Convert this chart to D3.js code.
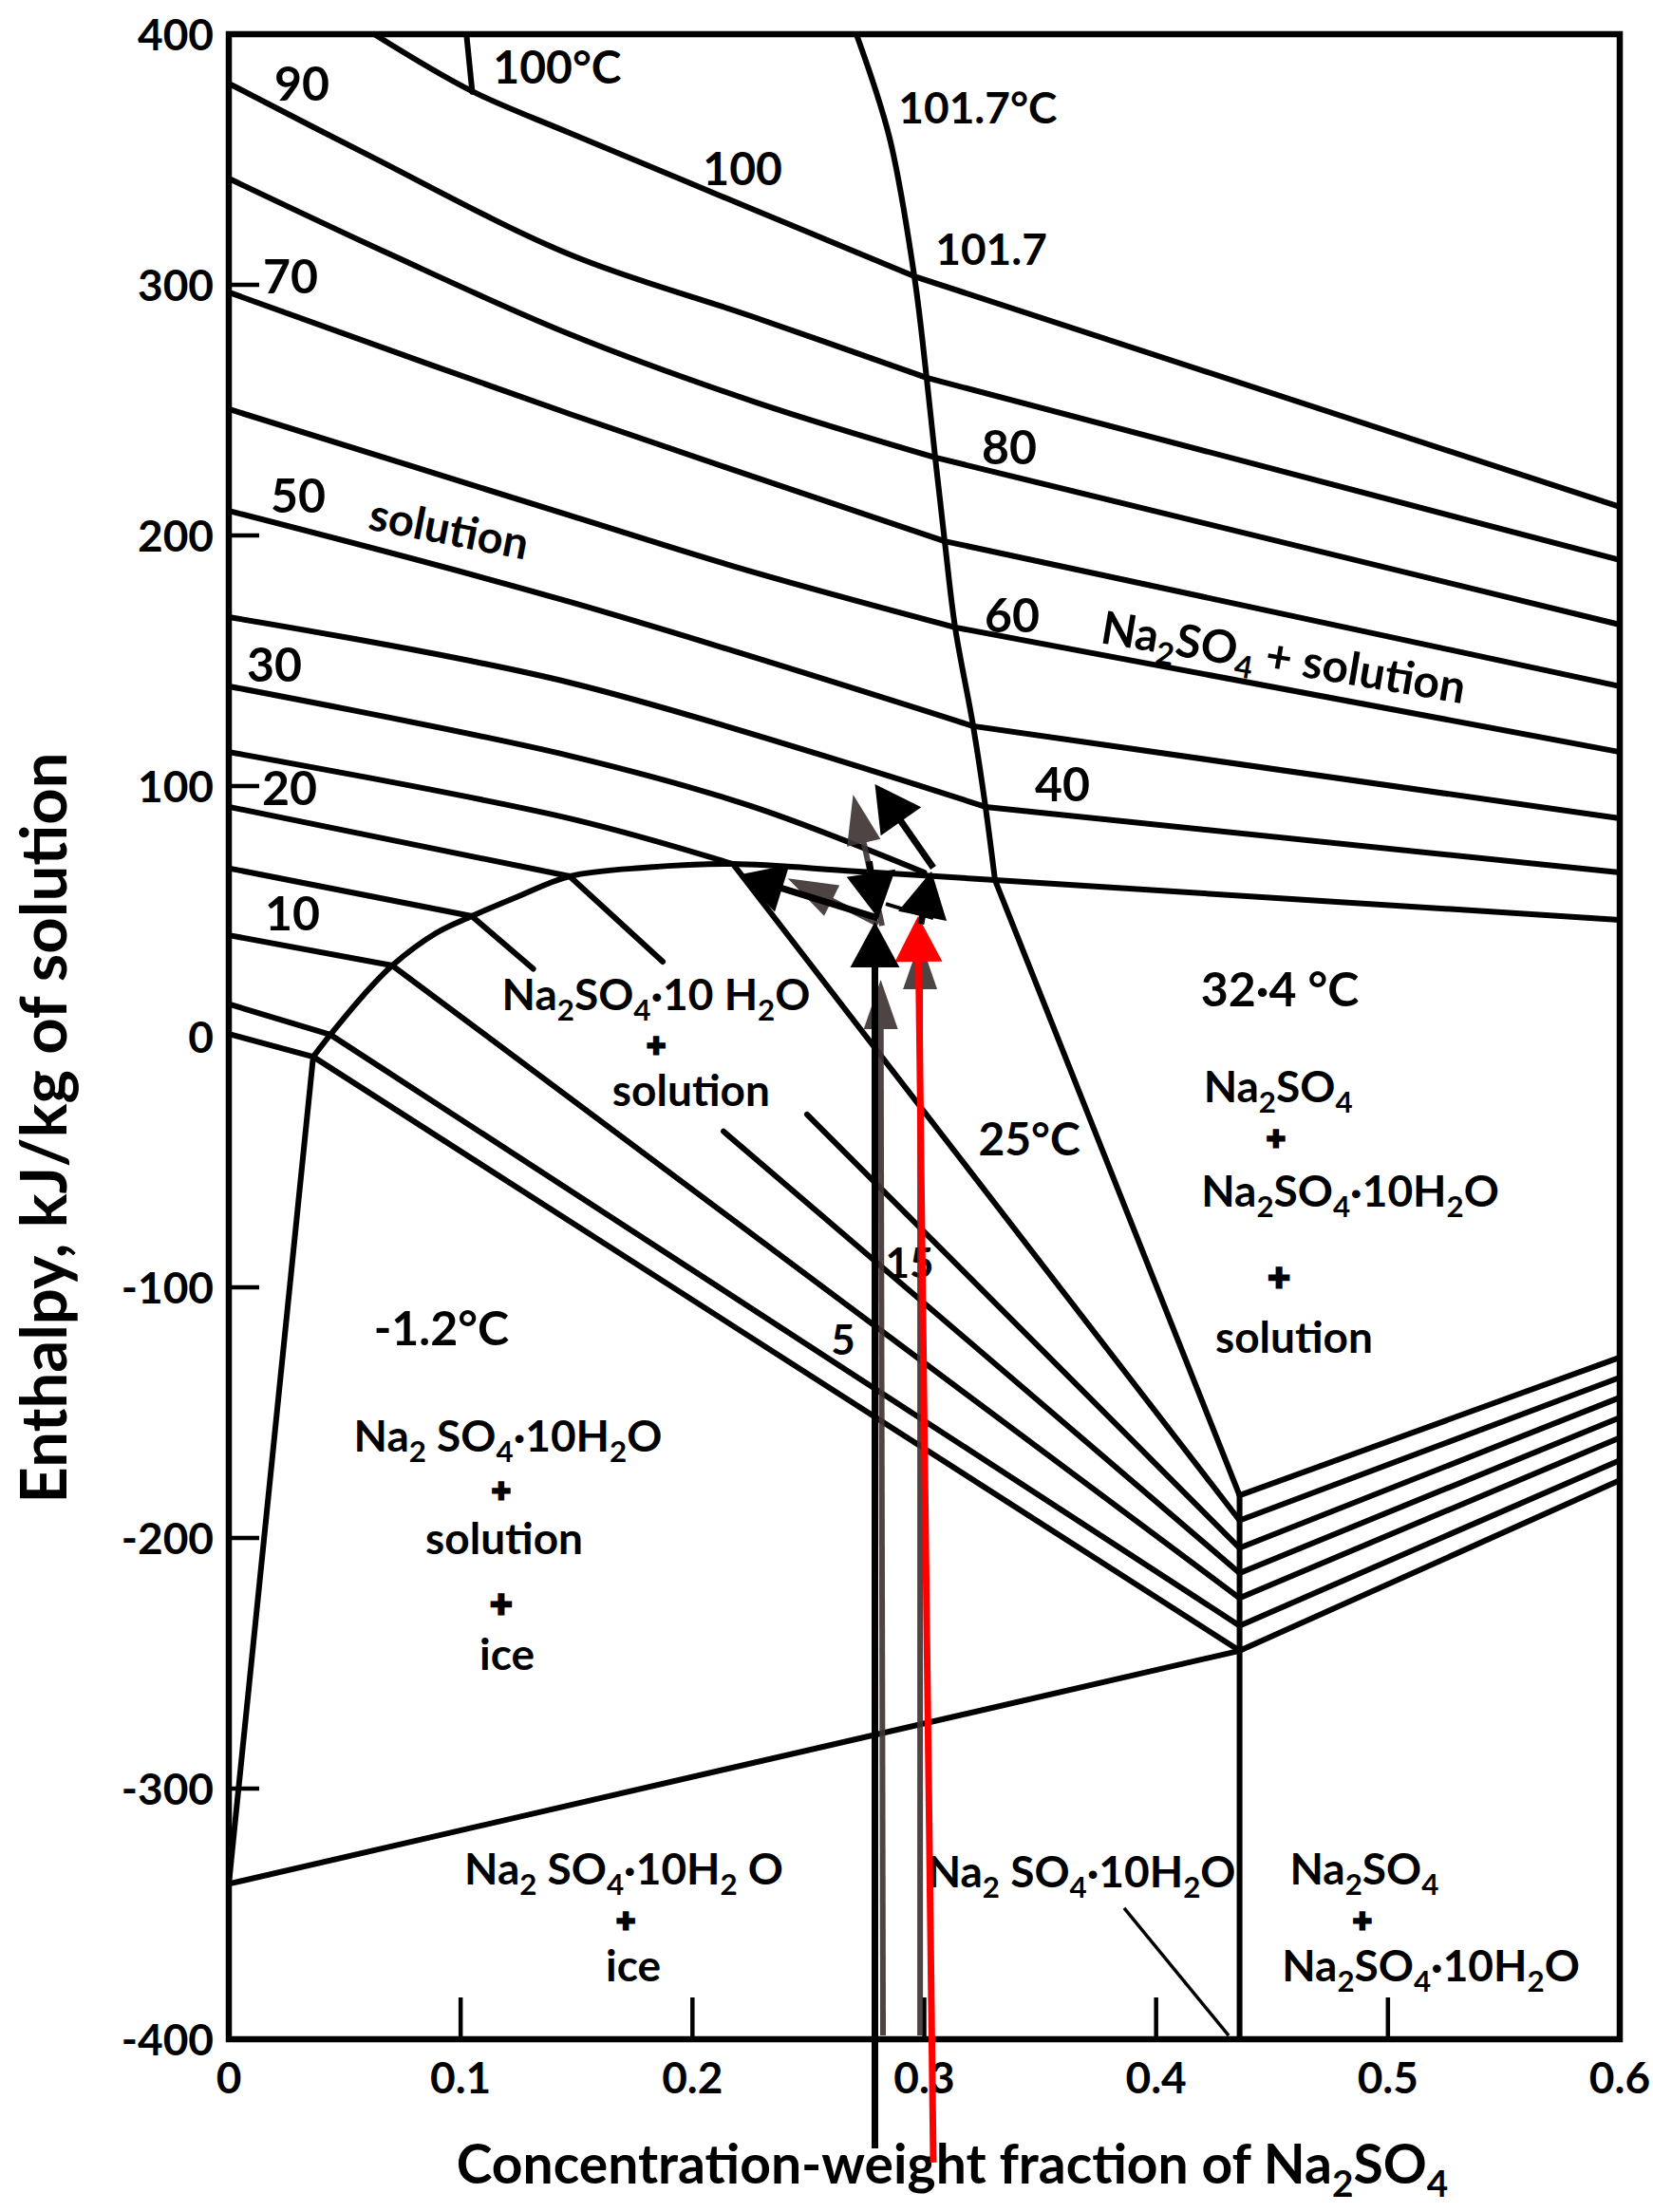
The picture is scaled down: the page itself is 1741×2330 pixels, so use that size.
<!DOCTYPE html>
<html><head><meta charset="utf-8">
<script src="https://d3js.org/d3.v7.min.js"></script>
<style>
html,body{margin:0;padding:0;background:#fff;}
svg{display:block;}
text{font-family:Lato,"DejaVu Sans",sans-serif;font-weight:bold;fill:#000;}
</style></head><body>
<svg id="chart" width="1741" height="2330"></svg>
<script>
// ---------------- data ----------------
const xTickValues = [0, 0.1, 0.2, 0.3, 0.4, 0.5, 0.6];
const xTickLabels = ["0", "0.1", "0.2", "0.3", "0.4", "0.5", "0.6"];
const yTickValues = [400, 300, 200, 100, 0, -100, -200, -300, -400];
const yTickLabels = ["400", "300", "200", "100", "0", "-100", "-200", "-300", "-400"];
const xInnerTicks = [0.1, 0.2, 0.3, 0.4, 0.5];
const yInnerTicks = [300, 200, 100, -100, -200, -300];

// isotherms in the unsaturated solution region [x, enthalpy]
const iso100 = [[0.0627, 400], [0.1048, 377.3], [0.147, 360.6], [0.2207, 332.2], [0.2957, 303.4]];
const iso90 = [[0, 380.3], [0.0582, 352.7], [0.147, 312.1], [0.2253, 287.5], [0.3010, 262.9]];
const iso80 = [[0, 342.4], [0.07, 312], [0.147, 280.3], [0.2277, 253], [0.3047, 231.1]];
const iso70 = [[0, 297], [0.147, 248.5], [0.3088, 197.7]];
const iso60 = [[0, 250.4], [0.147, 208], [0.2224, 186.4], [0.3133, 163.3]];
const iso50 = [[0, 209.8], [0.147, 173.5], [0.3211, 123.9]];
const iso40 = [[0, 167.4], [0.147, 141.3], [0.3264, 91.7]];
const iso30 = [[0, 139.8], [0.147, 112.1], [0.2253, 92], [0.30, 65.5]];
const iso25 = [[0, 113.6], [0.147, 87.1], [0.2175, 68.9]];
const iso20 = [[0, 91.7], [0.147, 64]];
const iso15 = [[0, 67.2], [0.1048, 48.1]];
const iso10 = [[0, 40.5], [0.0705, 28.4]];
const iso5 = [[0, 13], [0.0438, 0.8]];
const iso0 = [[0, 1.1], [0.0364, -8]];

// tie lines in the Na2SO4 + solution region
const tie1017 = [[0.2957, 303.4], [0.6, 211.4]];
const tie90 = [[0.3010, 262.9], [0.6, 190.2]];
const tie80 = [[0.3047, 231.1], [0.6, 164.4]];
const tie70 = [[0.3088, 197.7], [0.6, 139.8]];
const tie60 = [[0.3133, 163.3], [0.6, 113.6]];
const tie50 = [[0.3211, 123.9], [0.6, 87.1]];
const tie40 = [[0.3264, 91.7], [0.6, 65.5]];
const tie324 = [[0.3305, 62.5], [0.6, 46.6]];

// tie lines in the Na2SO4.10H2O + solution region (gaps where labels sit)
const hyd324 = [[0.3305, 62.5], [0.436, -183]];
const hyd25 = [[0.2175, 68.9], [0.436, -193]];
const hyd20a = [[0.147, 64], [0.1872, 29.9]];
const hyd20b = [[0.2494, -31], [0.436, -204]];
const hyd15a = [[0.1048, 48.1], [0.1313, 27.1]];
const hyd15b = [[0.2134, -37.8], [0.436, -214]];
const hyd10 = [[0.0705, 28.4], [0.436, -224]];
const hyd5 = [[0.0438, 0.8], [0.436, -235]];
const hydEut = [[0.0364, -8], [0.436, -245]];

// tie lines in the Na2SO4 + Na2SO4.10H2O region
const fan1 = [[0.436, -183], [0.6, -128]];
const fan2 = [[0.436, -193], [0.6, -136]];
const fan3 = [[0.436, -204], [0.6, -144]];
const fan4 = [[0.436, -214], [0.6, -152]];
const fan5 = [[0.436, -224], [0.6, -160]];
const fan6 = [[0.436, -235], [0.6, -169]];
const fan7 = [[0.436, -245], [0.6, -177]];

// phase boundaries
const saturation = [[0.2707, 400], [0.2850, 358.7], [0.2957, 303.4], [0.3010, 262.9], [0.3047, 231.1],
  [0.3088, 197.7], [0.3133, 163.3], [0.3211, 123.9], [0.3264, 91.7], [0.3305, 62.5]];
const hydrateSolubility = [[0.0364, -8], [0.0438, 0.8], [0.0582, 16.7], [0.0705, 28.4], [0.0893, 41.3],
  [0.1048, 48.1], [0.1241, 55.7], [0.147, 64], [0.18, 67.5], [0.2175, 68.9], [0.27, 66], [0.3305, 62.5]];
const iceBoundary = [[0, -338], [0.0364, -8]];
const eutecticLine = [[0, -338], [0.436, -245]];
const hydrateVertical = [[0.436, -183], [0.436, -400]];
const boil100 = [[0.1025, 400], [0.105, 377]];
const leaderLine = [[0.3862, -347.7], [0.4313, -398.5]];

// overlaid arrows [x1, y1, x2(tip), y2(tip)]
const grayArrows = [[0.2822, -398.5, 0.2812, 22.7], [0.2982, -398.5, 0.2982, 38.6],
  [0.2818, 44.3, 0.2693, 96.6], [0.2801, 45, 0.2411, 63.2]];
const redArrows = [[0.3039, -449.2, 0.2973, 48.1]];
const blackArrows = [[0.2787, -443.6, 0.2787, 45.8], [0.3039, 67.4, 0.2787, 100.8],
  [0.2801, 47.3, 0.2199, 64.6], [0.2762, 70, 0.2801, 47.3], [0.2985, 45, 0.3031, 66]];
const blackThin = [[0.2834, 53, 0.3039, 47.3]];

// ---------------- layout ----------------
const x = d3.scaleLinear().domain([0, 0.6]).range([241, 1706]);
const y = d3.scaleLinear().domain([-400, 400]).range([2148, 36]);
const svg = d3.select("#chart");
const LW = 6;

const line = d3.line().x(d => x(d[0])).y(d => y(d[1])).curve(d3.curveCatmullRom.alpha(0.5));
const curves = [iso100, iso90, iso80, iso70, iso60, iso50, iso40, iso30, iso25, iso20, iso15, iso10, iso5, iso0,
  tie1017, tie90, tie80, tie70, tie60, tie50, tie40, tie324,
  hyd324, hyd25, hyd20a, hyd20b, hyd15a, hyd15b, hyd10, hyd5, hydEut,
  fan1, fan2, fan3, fan4, fan5, fan6, fan7,
  saturation, hydrateSolubility, iceBoundary, eutecticLine, hydrateVertical, boil100];
svg.append("g").selectAll("path").data(curves).join("path")
  .attr("d", line).attr("fill", "none").attr("stroke", "#000")
  .attr("stroke-width", LW).attr("stroke-linecap", "round").attr("stroke-linejoin", "round");
svg.append("path").attr("d", line(leaderLine)).attr("fill", "none").attr("stroke", "#000").attr("stroke-width", 3.5);

// frame
svg.append("rect").attr("x", x(0)).attr("y", y(400)).attr("width", x(0.6) - x(0)).attr("height", y(-400) - y(400))
  .attr("fill", "none").attr("stroke", "#000").attr("stroke-width", 6.5);

// inner ticks
svg.append("g").selectAll("line").data(yInnerTicks).join("line")
  .attr("x1", x(0)).attr("x2", x(0) + 32).attr("y1", d => y(d)).attr("y2", d => y(d))
  .attr("stroke", "#000").attr("stroke-width", 4.5);
svg.append("g").selectAll("line").data(xInnerTicks).join("line")
  .attr("x1", d => x(d)).attr("x2", d => x(d)).attr("y1", y(-400)).attr("y2", y(-400) - 44)
  .attr("stroke", "#000").attr("stroke-width", 4.5);

// tick labels
svg.append("g").selectAll("text").data(yTickValues).join("text")
  .attr("x", x(0) - 16).attr("y", d => y(d)).attr("dy", "0.36em").attr("text-anchor", "end")
  .attr("font-size", 46).text((d, i) => yTickLabels[i]);
svg.append("g").selectAll("text").data(xTickValues).join("text")
  .attr("x", d => x(d)).attr("y", y(-400) + 40).attr("dy", "0.36em").attr("text-anchor", "middle")
  .attr("font-size", 46).text((d, i) => xTickLabels[i]);

// rich text helper: "_2" -> subscript 2
function rich(sel, str, fs) {
  const parts = str.split(/(_\d)/);
  let sub = false;
  parts.forEach(p => {
    if (!p) return;
    if (p[0] === "_") {
      sel.append("tspan").attr("dy", fs * 0.24).attr("font-size", fs * 0.68).text(p.slice(1));
      sub = true;
    } else {
      const t = sel.append("tspan");
      if (sub) { t.attr("dy", -fs * 0.24); sub = false; }
      t.text(p);
    }
  });
}

// single-line labels [text, x, y, size, rotation]
const labels = [
  ["90", 0.0315, 380.3, 50, 0], ["100°C", 0.1417, 386.7, 48, 0], ["100", 0.2216, 346.2, 48, 0],
  ["101.7°C", 0.3231, 370.8, 46, 0], ["101.7", 0.3289, 314.4, 46, 0], ["70", 0.0266, 303.4, 50, 0],
  ["80", 0.3367, 235.2, 50, 0], ["50", 0.0299, 215.9, 50, 0], ["solution", 0.095, 202.7, 47, 11],
  ["60", 0.3379, 168.2, 50, 0], ["Na_2SO_4 + solution", 0.455, 151.5, 48, 9.5], ["30", 0.0197, 148.5, 50, 0],
  ["40", 0.3596, 100.8, 50, 0], ["20", 0.0262, 99.2, 50, 0], ["10", 0.0274, 49.2, 50, 0],
  ["32·4 °C", 0.4534, 18.9, 50, 0], ["25°C", 0.3453, -40.9, 48, 0],
  ["15", 0.2937, -90.2, 44, 0], ["5", 0.265, -120.8, 44, 0], ["-1.2°C", 0.0917, -116.3, 50, 0],
  ["Na_2 SO_4·10H_2O", 0.3678, -333, 46, 0]
];
const lg = svg.append("g");
labels.forEach(([t, lx, ly, fs, rot]) => {
  const px = x(lx), py = y(ly);
  const el = lg.append("text").attr("x", px).attr("y", py).attr("dy", fs * 0.36)
    .attr("text-anchor", "middle").attr("font-size", fs);
  if (rot) el.attr("transform", `rotate(${rot},${px},${py})`);
  rich(el, t, fs);
});

// stacked region labels: list of [text, x, y, size] lines, drawn as one text each
const blocks = [
  [["Na_2SO_4·10 H_2O", 0.1843, 17, 46], ["+", 0.1843, -3.4, 34], ["solution", 0.1994, -21.2, 46]],
  [["Na_2SO_4", 0.4526, -19.7, 46], ["+", 0.4517, -40.5, 34], ["Na_2SO_4·10H_2O", 0.4837, -61.7, 46],
   ["+", 0.453, -95.5, 40], ["solution", 0.4595, -119.7, 46]],
  [["Na_2 SO_4·10H_2O", 0.1204, -159.1, 46], ["+", 0.1175, -181.1, 34], ["solution", 0.1188, -200, 46],
   ["+", 0.1175, -225.8, 40], ["ice", 0.12, -246.2, 46]],
  [["Na_2 SO_4·10H_2 O", 0.1704, -331.8, 46], ["+", 0.1712, -352.7, 34], ["ice", 0.1745, -370.5, 46]],
  [["Na_2SO_4", 0.4898, -331.8, 46], ["+", 0.489, -352.7, 34], ["Na_2SO_4·10H_2O", 0.5185, -370.5, 46]]
];
blocks.forEach(block => {
  const el = lg.append("text").attr("text-anchor", "middle");
  block.forEach(([t, lx, ly, fs]) => {
    const row = el.append("tspan").attr("x", x(lx)).attr("y", y(ly) + fs * 0.36).attr("font-size", fs);
    if (t === "+") row.attr("stroke", "#000").attr("stroke-width", 3);
    rich(row, t, fs);
  });
});

// axis titles
const xt = svg.append("text").attr("x", 1003).attr("y", 2300).attr("text-anchor", "middle").attr("font-size", 57);
rich(xt, "Concentration-weight fraction of Na_2SO_4", 57);
svg.append("text").attr("transform", "translate(70,1188) rotate(-90)").attr("text-anchor", "middle")
  .attr("font-size", 67).text("Enthalpy, kJ/kg of solution");

// overlaid arrows
function drawArrows(data, color, lw, hl, hw, op) {
  const g = svg.append("g").attr("opacity", op);
  data.forEach(([x1, y1, x2, y2]) => {
    const X1 = x(x1), Y1 = y(y1), X2 = x(x2), Y2 = y(y2);
    const dx = X2 - X1, dy = Y2 - Y1, L = Math.hypot(dx, dy);
    const ux = dx / L, uy = dy / L;
    const bx = X2 - ux * hl, by = Y2 - uy * hl;
    if (L > hl) g.append("line").attr("x1", X1).attr("y1", Y1).attr("x2", bx + ux * 2).attr("y2", by + uy * 2)
      .attr("stroke", color).attr("stroke-width", lw);
    g.append("polygon").attr("points",
      `${X2},${Y2} ${bx - uy * hw / 2},${by + ux * hw / 2} ${bx + uy * hw / 2},${by - ux * hw / 2}`)
      .attr("fill", color);
  });
}
drawArrows(grayArrows, "#3f3535", 6, 52, 36, 0.92);
drawArrows(redArrows, "#ff0000", 7, 48, 50, 1);
svg.append("g").selectAll("line").data(blackThin).join("line")
  .attr("x1", d => x(d[0])).attr("y1", d => y(d[1])).attr("x2", d => x(d[2])).attr("y2", d => y(d[3]))
  .attr("stroke", "#000").attr("stroke-width", 4);
drawArrows(blackArrows, "#000", 7, 48, 52, 1);
</script>
</body></html>
